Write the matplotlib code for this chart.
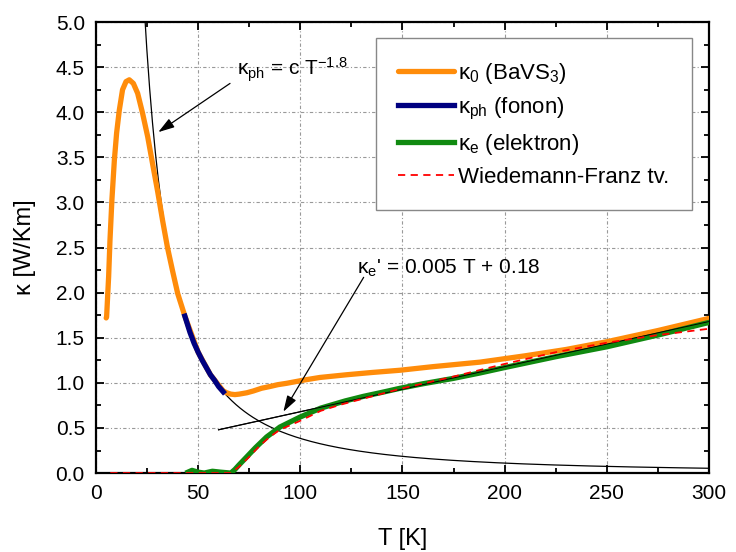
import numpy as np
import matplotlib
matplotlib.use("Agg")
import matplotlib.pyplot as plt

plt.rcParams['font.family'] = ['Liberation Sans', 'DejaVu Sans']
plt.rcParams['mathtext.fontset'] = 'custom'
plt.rcParams['mathtext.rm'] = 'Liberation Sans'
plt.rcParams['mathtext.it'] = 'Liberation Sans'

# measured total conductivity of BaVS3
t_total = [5.0, 5.2, 6.2, 6.85, 7.8, 9.0, 10.1, 11.4, 13.0, 14.7, 16.3, 18.3, 20.4,
           22.8, 25.3, 27.7, 30.2, 32.6, 35.0, 37.5, 40.0, 43.5, 50.0, 56.0, 62.3,
           64.0, 66.0, 68.0, 70.0, 73.8, 77.0, 81.0, 85.2, 89.0, 93.3, 101.5, 109.6,
           122.7, 135, 148.8, 165, 188, 210, 230, 250, 275, 300]
k_total = [1.72, 1.73, 2.18, 2.58, 3.03, 3.47, 3.77, 4.02, 4.25, 4.34, 4.36, 4.32, 4.21,
           3.99, 3.73, 3.43, 3.12, 2.80, 2.50, 2.24, 1.99, 1.74, 1.34, 1.09, 0.91,
           0.89, 0.875, 0.87, 0.875, 0.89, 0.91, 0.94, 0.96, 0.98, 0.995, 1.03, 1.06,
           1.09, 1.115, 1.14, 1.18, 1.23, 1.30, 1.37, 1.456, 1.58, 1.715]

# phonon part (metallic-insulator region)
t_phonon = [43.5, 46, 48, 50, 52, 54, 56, 58, 60, 62.3]
k_phonon = [1.74, 1.56, 1.44, 1.34, 1.25, 1.17, 1.09, 1.03, 0.96, 0.90]

# electronic part
t_elec = [45, 47, 50, 53, 57, 61, 66, 68, 70, 73.8, 78, 83.5, 90, 99.8, 110, 122,
          130.8, 140, 148.8, 160, 175, 188, 200, 225, 250, 275, 300]
k_elec = [0.01, 0.03, 0.01, 0.0, 0.02, 0.01, 0.0, 0.04, 0.09, 0.18, 0.28, 0.40, 0.51,
          0.62, 0.72, 0.80, 0.85, 0.895, 0.94, 0.99, 1.05, 1.11, 1.17, 1.29, 1.40, 1.53, 1.67]

# Wiedemann-Franz estimate
t_wf = [7, 20, 40, 66, 70, 75, 80, 85, 90, 100, 110, 120, 130, 140, 150, 175, 200,
        225, 250, 275, 300]
k_wf = [0, 0, 0, 0, 0.07, 0.18, 0.30, 0.40, 0.48, 0.58, 0.69, 0.76, 0.82, 0.88, 0.94,
        1.07, 1.21, 1.34, 1.445, 1.53, 1.60]

# fits
c_ph = 1530.0
exp_ph = -1.8
slope_e, icpt_e = 0.005, 0.18

fig = plt.figure(figsize=(7.36, 5.52), dpi=100)
ax = fig.add_axes([0.1304, 0.143, 0.8329, 0.817])

ax.set_axisbelow(True)
ax.grid(True, which='major', color='#999999', linestyle=(0, (3, 2, 1, 2)), linewidth=0.8)

t_fit = np.linspace(23.5, 300, 400)
ax.plot(t_fit, c_ph * t_fit ** exp_ph, color='black', lw=0.9, zorder=2)
t_lin = np.array([60, 300])
ax.plot(t_lin, slope_e * t_lin + icpt_e, color='black', lw=0.9, zorder=2)

ax.plot(t_total, k_total, color='#ff8c0a', lw=3.8, solid_capstyle='round',
        solid_joinstyle='round', zorder=3, label=r'κ$_0$ (BaVS$_3$)')
ax.plot(t_phonon, k_phonon, color='#000080', lw=3.8, zorder=4,
        label=r'κ$_\mathrm{ph}$ (fonon)')
ax.plot(t_elec, k_elec, color='#108a10', lw=3.8, solid_joinstyle='round', zorder=4,
        label=r'κ$_\mathrm{e}$ (elektron)')
ax.plot(t_wf, k_wf, color='red', lw=1.3, linestyle=(0, (4, 3)), zorder=5,
        label='Wiedemann-Franz tv.')
# thin fit line drawn over the electronic curve
ax.plot(t_lin, slope_e * t_lin + icpt_e, color='black', lw=0.7, zorder=4.5)

arrow = dict(arrowstyle='-|>,head_length=0.7,head_width=0.22', color='black', lw=0.9,
             mutation_scale=14, shrinkA=0, shrinkB=0)
ax.annotate('', xy=(30.5, 3.78), xytext=(65.6, 4.32), arrowprops=arrow)
ax.text(69, 4.47, r'κ$_\mathrm{ph}$ = c T$^{-1.8}$', fontsize=15, va='center')

ax.annotate('', xy=(91.7, 0.68), xytext=(131, 2.17), arrowprops=arrow)
ax.text(127.8, 2.27, r"κ$_\mathrm{e}$' = 0.005 T + 0.18", fontsize=15, va='center')

ax.set_xlim(0, 300)
ax.set_ylim(0, 5)
ax.set_xticks(np.arange(0, 301, 50))
ax.set_xticks(np.arange(0, 301, 25), minor=True)
ax.set_yticks(np.arange(0, 5.01, 0.5))
ax.set_yticks(np.arange(0, 5.01, 0.25), minor=True)
ax.set_yticklabels([f'{v:.1f}' for v in np.arange(0, 5.01, 0.5)])
ax.tick_params(which='both', direction='in', top=True, right=True, labelsize=15, width=1.3)
ax.tick_params(which='major', length=6, pad=8)
ax.tick_params(which='minor', length=3.5)
for s in ax.spines.values():
    s.set_linewidth(1.6)

ax.set_xlabel('T [K]', fontsize=17, labelpad=18)
ax.set_ylabel('κ [W/Km]', fontsize=17, labelpad=14)

leg = ax.legend(loc='upper right', bbox_to_anchor=(0.972, 0.964), fontsize=16,
                handlelength=2.5, handletextpad=0.2, labelspacing=0.45,
                borderpad=1.0, borderaxespad=0, fancybox=False, framealpha=1,
                edgecolor='#888888')
leg.get_frame().set_linewidth(1.0)

fig.savefig('out.png', dpi=100)
